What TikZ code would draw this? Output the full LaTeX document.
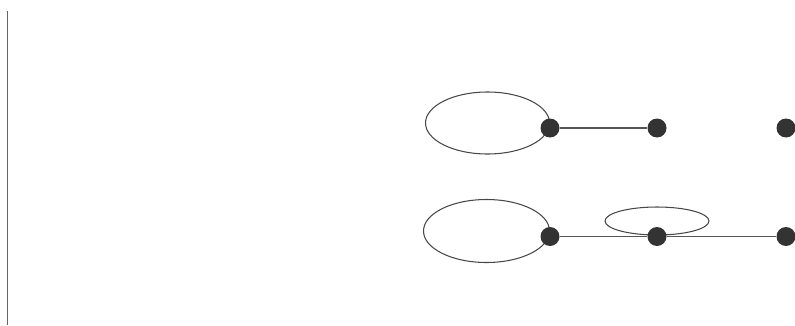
\documentclass[tikz,border=0pt]{standalone}
\usepackage{tikz}
\usetikzlibrary{positioning}
\definecolor{dotgray}{HTML}{333333}
\definecolor{linegray}{HTML}{555555}
\definecolor{axisgray}{HTML}{666666}

\begin{document}
\begin{tikzpicture}[
    x=0.02cm, y=-0.02cm,
    vertex/.style={circle, fill=dotgray, inner sep=0pt, minimum size=0.38cm},
    edge/.style={draw=linegray, line width=0.6pt},
    loopline/.style={draw=dotgray!90, line width=0.6pt}
]
\useasboundingbox (0,0) rectangle (795,325);

% left rule
\coordinate (ruletop) at (7.5,11);
\coordinate (rulebot) at (7.5,325);
\draw[draw=axisgray, line width=1.1pt] (ruletop) -- (rulebot);

% loops (drawn first, dots on top)
\draw[loopline] (487.5,123) ellipse [x radius=62, y radius=31];
\draw[loopline] (486.5,231) ellipse [x radius=63, y radius=31.5];
\draw[loopline] (657,221) ellipse [x radius=52, y radius=14];

% Top row
\node[vertex] (ta) at (550,128) {};
\node[vertex] (tb) at (657,128) {};
\node[vertex] (tc) at (786,128) {};

% Bottom row
\node[vertex] (ba) at (550,236.5) {};
\node[vertex] (bb) at (657,236.5) {};
\node[vertex] (bc) at (786,236.5) {};

% Edges
\draw[edge] (ta) -- (tb);
\draw[edge] (ba) -- (bb);
\draw[edge] (bb) -- (bc);

\end{tikzpicture}
\end{document}
